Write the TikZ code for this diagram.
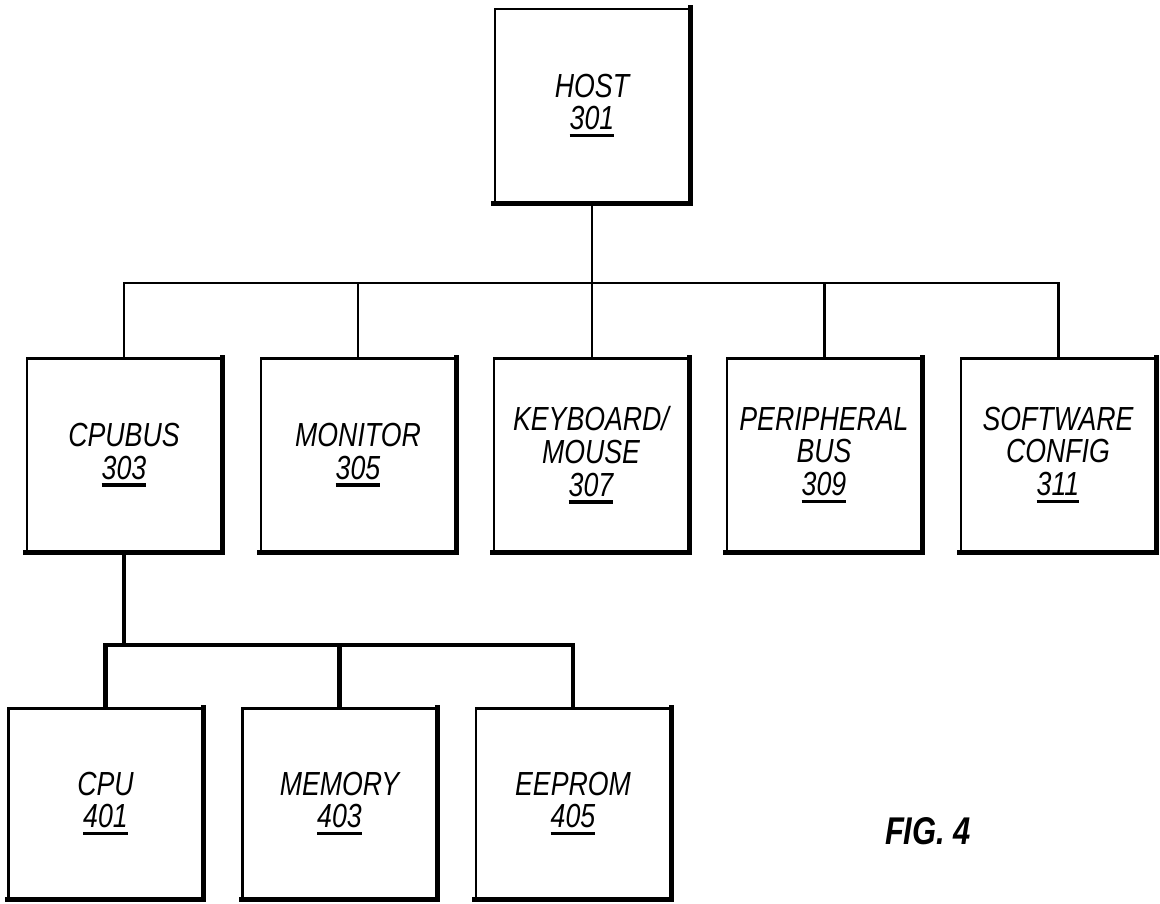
\documentclass[tikz,border=0pt]{standalone}
\usepackage{fontspec}
\newfontfamily\blockfont{Liberation Sans}[FakeStretch=0.8]
\usetikzlibrary{calc}
\newcommand{\refnum}[1]{\setbox0\hbox{#1}\leavevmode\rlap{\rule[-0.15cm]{\wd0}{0.065cm}}\box0}

\begin{document}
\begin{tikzpicture}[x=0.02cm,y=-0.02cm,
  block/.style={draw,line width=1.3pt,minimum width=3.88cm,minimum height=3.86cm,inner sep=0pt,align=center,
    font=\blockfont\itshape\fontsize{19}{18.6}\selectfont},
  lowblock/.style={block,minimum height=3.8cm},
  heavyedge/.style={line width=2.8pt,line cap=rect},
  busline/.style={line width=1.7pt},
  lowbusline/.style={line width=2.3pt}]
  \useasboundingbox (0,0) rectangle (1160,903);
  % top level
  \node[block] (host) at (592,105.5) {HOST\\\refnum{301}};
  % second level
  \node[block] (cpubus) at (124,455) {CPUBUS\\\refnum{303}};
  \node[block] (monitor) at (358,455) {MONITOR\\\refnum{305}};
  \node[block] (kbd) at (591,455) {KEYBOARD/\\MOUSE\\\refnum{307}};
  \node[block] (periph) at (824,455) {PERIPHERAL\\BUS\\\refnum{309}};
  \node[block] (swconfig) at (1058,455) {SOFTWARE\\CONFIG\\\refnum{311}};
  % third level
  \node[lowblock] (cpu) at (105.5,803.5) {CPU\\\refnum{401}};
  \node[lowblock] (memory) at (339.5,803.5) {MEMORY\\\refnum{403}};
  \node[lowblock] (eeprom) at (573,803.5) {EEPROM\\\refnum{405}};
  \node[font=\blockfont\bfseries\itshape\fontsize{22}{24}\selectfont] (figlabel) at (928,831) {FIG. 4};
  % heavy right and bottom edges
  \foreach \b in {host,cpubus,monitor,kbd,periph,swconfig,cpu,memory,eeprom}
    \draw[heavyedge] (\b.south west) -- (\b.south east) -- (\b.north east);
  % buses
  \coordinate (topbus) at (0,283);
  \coordinate (lowbus) at (0,645);
  \draw[busline] (host.south) -- (host.south |- kbd.north);
  \draw[busline] (cpubus.north) -- (cpubus.north |- topbus) -- (swconfig.north |- topbus) -- (swconfig.north);
  \foreach \n in {monitor,periph}
    \draw[busline] (\n.north) -- (\n.north |- topbus);
  \draw[lowbusline] (cpubus.south) -- (cpubus.south |- lowbus);
  \draw[lowbusline] (cpu.north) -- (cpu.north |- lowbus) -- (eeprom.north |- lowbus) -- (eeprom.north);
  \draw[lowbusline] (memory.north) -- (memory.north |- lowbus);
\end{tikzpicture}
\end{document}
